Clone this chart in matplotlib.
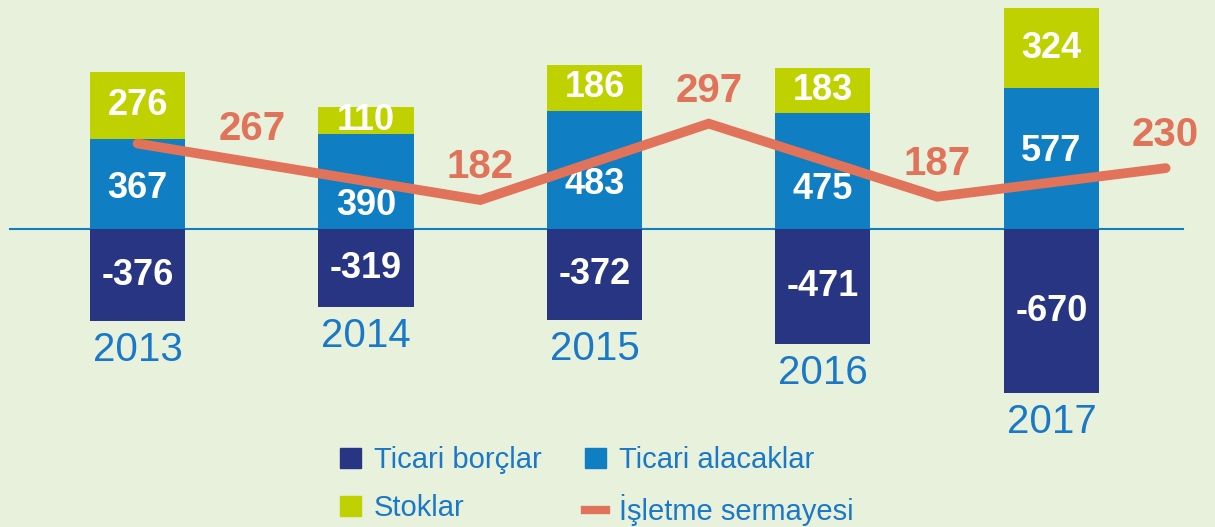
import numpy as np
import matplotlib
matplotlib.use('Agg')
import matplotlib.pyplot as plt
from matplotlib.patches import Patch
from matplotlib.lines import Line2D

# veriler
years = ['2013', '2014', '2015', '2016', '2017']
ticari_borclar = [-376, -319, -372, -471, -670]
ticari_alacaklar = [367, 390, 483, 475, 577]
stoklar = [276, 110, 186, 183, 324]
isletme_sermayesi = [267, 182, 297, 187, 230]

# renkler
bg = '#e8f1dc'
navy = '#283583'
blue = '#0f7ec2'
lime = '#bfd200'
orange = '#e0735a'
text_blue = '#1a78c8'

plt.rcParams['font.family'] = ['Liberation Sans Narrow', 'Liberation Sans', 'DejaVu Sans']

fig = plt.figure(figsize=(12.15, 5.27), dpi=100, facecolor=bg)
ax = fig.add_axes([0, 0, 1, 1])
ax.set_facecolor(bg)
ax.set_xlim(-0.602, 4.716)
ax.set_ylim(-1216, 935)
ax.axis('off')

x = np.arange(len(years))
w = 0.416

# sıfır çizgisi
ax.axhline(0, xmin=0.008, xmax=0.974, color=blue, lw=1.5, zorder=1)

b1 = ax.bar(x, ticari_alacaklar, w, color=blue, zorder=2)
b2 = ax.bar(x, stoklar, w, bottom=ticari_alacaklar, color=lime, zorder=2)
b3 = ax.bar(x, ticari_borclar, w, color=navy, zorder=2)
ax.bar_label(b2, label_type='center', color='white', fontsize=26, fontweight='bold')
ax.bar_label(b3, label_type='center', color='white', fontsize=26, fontweight='bold')
# alacak etiketleri segmentin alt kısmına yakın
lab_frac = [0.45, 0.25, 0.38, 0.34, 0.55]
for i, v in enumerate(ticari_alacaklar):
    ax.text(x[i], v * lab_frac[i], str(v), ha='center', va='center',
            color='white', fontsize=26, fontweight='bold', zorder=3)

# yıllar
for i, y in enumerate(years):
    ax.annotate(y, (x[i], ticari_borclar[i]), xytext=(0, -7),
                textcoords='offset points', ha='center', va='top',
                fontsize=29, color=text_blue)

# işletme sermayesi çizgisi (ikinci eksen)
ax2 = ax.twinx()
ax2.set_ylim(-310, 483)
ax2.axis('off')
line_x = np.r_[x[0], x[1:] + 0.5]
ax2.plot(line_x, isletme_sermayesi, color=orange, lw=7,
         solid_capstyle='round', solid_joinstyle='miter', zorder=5)
lab_x = x + 0.5
lab_y = np.interp(lab_x, line_x, isletme_sermayesi)
for i, v in enumerate(isletme_sermayesi):
    ax2.annotate(str(v), (lab_x[i], lab_y[i]), xytext=(0, 10),
                 textcoords='offset points', ha='center', va='bottom',
                 fontsize=29, fontweight='bold', color=orange, zorder=6)

# lejant
handles = [Patch(color=navy), Patch(color=blue), Patch(color=lime),
           Line2D([], [], color=orange, lw=6)]
labels = ['Ticari borçlar', 'Ticari alacaklar', 'Stoklar', 'İşletme sermayesi']
order = [0, 2, 1, 3]
fig.legend([handles[k] for k in order], [labels[k] for k in order],
           ncol=2, loc='upper left', bbox_to_anchor=(0.268, 0.181),
           frameon=False, fontsize=21, labelcolor=text_blue,
           handlelength=0.7, handleheight=0.7, handletextpad=0.45,
           columnspacing=1.5, labelspacing=0.68, borderpad=0)

fig.savefig('out.png', dpi=100, facecolor=bg)
